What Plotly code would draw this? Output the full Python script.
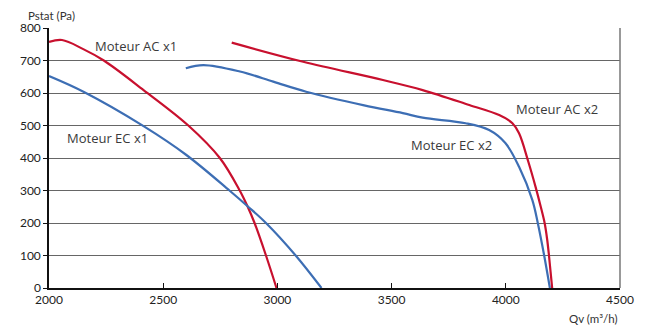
import plotly.graph_objects as go

# fan curves (Qv in m3/h, Pstat in Pa)
ac1_qv = [2000, 2057, 2150, 2240, 2414, 2610, 2748, 2835, 2870, 2900, 2950, 2996]
ac1_p = [757, 763, 735, 700, 609, 500, 400, 300, 250, 200, 100, 0]

ec1_qv = [2000, 2153, 2414, 2600, 2790, 2872, 2950, 3080, 3193]
ec1_p = [652, 603, 498, 410, 300, 250, 200, 100, 0]

ac2_qv = [2800, 3113, 3462, 3636, 3840, 3971, 4029, 4058, 4098, 4130, 4153, 4170, 4181, 4189, 4196, 4203]
ac2_p = [755, 696, 640, 609, 563, 532, 507, 476, 390, 312, 250, 200, 150, 100, 50, 0]

ec2_qv = [2599, 2676, 2836, 2982, 3126, 3380, 3549, 3636, 3824, 3927, 3998, 4058, 4116, 4140, 4168, 4193]
ec2_p = [676, 686, 666, 635, 604, 562, 538, 524, 507, 486, 446, 373, 271, 200, 100, 0]

labels = ["Moteur AC x1", "Moteur EC x1", "Moteur AC x2", "Moteur EC x2"]
label_qv = [2380, 2257, 4225, 3763]
label_p = [745, 462, 551, 440]

RED = "#c8102e"
BLUE = "#3d6eb4"

fig = go.Figure()
for qv, p, col in [(ac1_qv, ac1_p, RED), (ec1_qv, ec1_p, BLUE),
                   (ac2_qv, ac2_p, RED), (ec2_qv, ec2_p, BLUE)]:
    fig.add_trace(go.Scatter(x=qv, y=p, mode="lines",
                             line=dict(color=col, width=2.2, shape="spline", smoothing=1.0),
                             showlegend=False, hoverinfo="skip"))

for txt, x, y in zip(labels, label_qv, label_p):
    fig.add_annotation(x=x, y=y, text=txt, showarrow=False,
                       font=dict(family="Open Sans, Noto Sans, sans-serif", size=13, color="#3a3a3a"))

fig.add_annotation(xref="paper", yref="paper", x=-0.04, y=1.0, yshift=13,
                   xanchor="left", yanchor="middle",
                   text="Pstat (Pa)", showarrow=False,
                   font=dict(family="Lato, sans-serif", size=11.5, color="#333"))
fig.add_annotation(xref="paper", yref="paper", x=1.0, y=0, yshift=-30,
                   xanchor="right", yanchor="middle",
                   text="Qv (m³/h)", showarrow=False,
                   font=dict(family="Lato, sans-serif", size=11.5, color="#333"))

# the page body has an 8px margin, so the figure is sized to fit the window
fig.update_layout(
    width=638, height=319,
    margin=dict(l=37, r=20, t=20, b=39),
    plot_bgcolor="white", paper_bgcolor="white",
    font=dict(family="Lato, sans-serif", size=12, color="#222"),
    xaxis=dict(range=[2000, 4500], tickvals=[2000, 2500, 3000, 3500, 4000, 4500],
               showgrid=False, zeroline=False, showline=True, linecolor="#111", linewidth=1.5,
               ticks="inside", ticklen=5, tickcolor="#111"),
    yaxis=dict(range=[0, 800], tickvals=list(range(0, 801, 100)),
               showgrid=True, gridcolor="#666", gridwidth=1,
               zeroline=False, showline=True, linecolor="#111", linewidth=1.5,
               ticks="outside", ticklen=4, tickcolor="#111"),
)
# right border of the plot area
fig.add_shape(type="line", xref="paper", yref="paper", x0=1, x1=1, y0=0, y1=1,
              line=dict(color="#777", width=1.5))

fig.write_html("out.html")
